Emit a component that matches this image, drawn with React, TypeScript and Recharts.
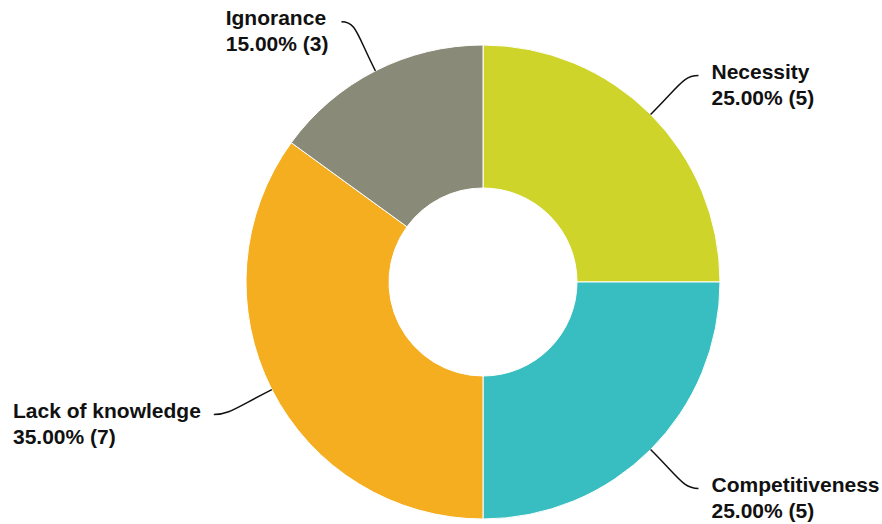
import React from 'react';
import { Cell, Pie, PieChart } from 'recharts';

const categories = ['Necessity', 'Competitiveness', 'Lack of knowledge', 'Ignorance'];
const counts = [5, 5, 7, 3];
const colors = ['#ced42a', '#38bec0', '#f5ae20', '#8a8a78'];

const data = categories.map((name, i) => ({ name, value: counts[i] }));

const RADIAN = Math.PI / 180;
const FONT = "bold 21px 'Liberation Sans', Arial, sans-serif";

let ctx: CanvasRenderingContext2D | null = null;
function textWidth(s: string) {
  if (!ctx) ctx = document.createElement('canvas').getContext('2d');
  if (!ctx) return s.length * 11;
  ctx.font = FONT;
  return ctx.measureText(s).width;
}

function renderLabel(props: any) {
  const { cx, cy, midAngle, outerRadius, percent, name, value } = props;
  const cos = Math.cos(-midAngle * RADIAN);
  const sin = Math.sin(-midAngle * RADIAN);
  const sign = cos >= 0 ? 1 : -1;
  const sx = cx + outerRadius * cos;
  const sy = cy + outerRadius * sin;
  const mx = cx + (outerRadius + 42) * cos;
  const my = cy + (outerRadius + 42) * sin;
  const ex0 = cx + (outerRadius + 55) * cos;
  const ey = cy + (outerRadius + 55) * sin;
  const ex = ex0 + sign * 9;
  const line2 = `${(percent * 100).toFixed(2)}% (${value})`;
  const block = Math.max(textWidth(name), textWidth(line2));
  const tx = sign > 0 ? ex + 13 : ex - 13 - block;
  return (
    <g>
      <path
        d={`M${sx},${sy} C${mx},${my} ${ex0 - sign * 6},${ey} ${ex},${ey}`}
        stroke="#111"
        strokeWidth={1.5}
        fill="none"
      />
      <text
        x={tx}
        y={ey - 4}
        textAnchor="start"
        fill="#111"
        fontSize={21}
        fontWeight="bold"
        fontFamily="'Liberation Sans', Arial, sans-serif"
      >
        <tspan x={tx} dominantBaseline="central">{name}</tspan>
        <tspan x={tx} dy={26} dominantBaseline="central">{line2}</tspan>
      </text>
    </g>
  );
}

export default function App() {
  return (
    <div style={{ position: 'absolute', left: 0, top: 0, width: 882, height: 524, background: '#fff' }}>
      <PieChart width={882} height={524} margin={{ top: 0, right: 0, bottom: 0, left: 0 }}>
        <Pie
          data={data}
          dataKey="value"
          nameKey="name"
          cx={483}
          cy={282}
          innerRadius={94}
          outerRadius={237}
          startAngle={90}
          endAngle={-270}
          stroke="#fff"
          strokeWidth={1}
          label={renderLabel}
          labelLine={false}
          isAnimationActive={false}
        >
          {data.map((entry, index) => (
            <Cell key={entry.name} fill={colors[index]} />
          ))}
        </Pie>
      </PieChart>
    </div>
  );
}
